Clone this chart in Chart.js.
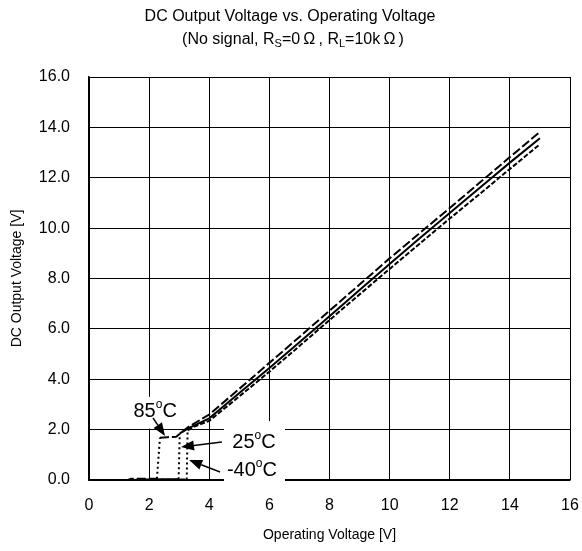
<!DOCTYPE html>
<html>
<head>
<meta charset="utf-8">
<script src="https://cdn.jsdelivr.net/npm/chart.js"></script>
<style>
html, body { margin: 0; padding: 0; background: #fff; }
</style>
</head>
<body>
<canvas id="myChart" width="582" height="551"></canvas>
<script>
// operating voltage [V] / dc output voltage [V]

// 85 degC
var volt85 = [0, 1.3, 1.4, 2.2, 2.26, 2.36, 2.6, 2.9, 3.3, 4, 5, 6, 7, 8, 9, 10, 11, 12, 13, 14, 15];
var out85 = [0, 0, 0.05, 0.05, 0.05, 1.68, 1.7, 1.72, 2.1, 2.6, 3.62, 4.65, 5.68, 6.72, 7.76, 8.8, 9.8, 10.8, 11.81, 12.82, 13.82];

// 25 degC
var volt25 = [0, 1.4, 2.2, 2.98, 3.02, 3.3, 4, 5, 6, 7, 8, 9, 10, 11, 12, 13, 14, 15];
var out25 = [0, 0, 0.03, 0.03, 1.85, 2.05, 2.45, 3.45, 4.45, 5.47, 6.5, 7.54, 8.58, 9.6, 10.6, 11.6, 12.6, 13.57];

// -40 degC
var voltM40 = [0, 2.2, 3.25, 3.28, 3.5, 4, 5, 6, 7, 8, 9, 10, 11, 12, 13, 14, 15];
var outM40 = [0, 0, 0.02, 1.97, 2.12, 2.35, 3.32, 4.3, 5.32, 6.35, 7.37, 8.38, 9.38, 10.38, 11.36, 12.35, 13.33];

var xTicks = [0, 2, 4, 6, 8, 10, 12, 14, 16];
var yTicks = [0, 2, 4, 6, 8, 10, 12, 14, 16];

var FONT = '"Liberation Sans", Arial, sans-serif';

function pts(xs, ys) {
    var arr = [];
    for (var i = 0; i < xs.length; i++) {
        arr.push({ x: xs[i], y: ys[i] });
    }
    return arr;
}

// steep jumps are drawn dotted
function jumpDash(c) {
    var dx = c.p1.parsed.x - c.p0.parsed.x;
    var dy = c.p1.parsed.y - c.p0.parsed.y;
    return Math.abs(dy) > 5 * Math.abs(dx) ? [2, 3] : undefined;
}

function drawRich(ctx, parts, cx, base) {
    var w = 0;
    parts.forEach(function(p) {
        ctx.font = p[1] + 'px ' + FONT;
        w += ctx.measureText(p[0]).width;
    });
    var x = cx - w / 2;
    ctx.textAlign = 'left';
    ctx.textBaseline = 'alphabetic';
    parts.forEach(function(p) {
        ctx.font = p[1] + 'px ' + FONT;
        ctx.fillText(p[0], x, base + p[2]);
        x += ctx.measureText(p[0]).width;
    });
}

function arrow(ctx, x0, y0, x1, y1) {
    var a = Math.atan2(y1 - y0, x1 - x0), L = 13, W = 5;
    var bx = x1 - L * Math.cos(a), by = y1 - L * Math.sin(a);
    ctx.beginPath();
    ctx.moveTo(x0, y0);
    ctx.lineTo(bx, by);
    ctx.stroke();
    ctx.beginPath();
    ctx.moveTo(x1, y1);
    ctx.lineTo(bx + W * Math.sin(a), by - W * Math.cos(a));
    ctx.lineTo(bx - W * Math.sin(a), by + W * Math.cos(a));
    ctx.closePath();
    ctx.fill();
}

var extras = {
    id: 'extras',
    afterDatasetsDraw: function(chart) {
        var ctx = chart.ctx;
        var xs = chart.scales.x, ys = chart.scales.y;
        var px = function(v) { return xs.getPixelForValue(v); };
        var py = function(v) { return ys.getPixelForValue(v); };
        ctx.save();

        // white boxes behind the labels
        ctx.fillStyle = '#fff';
        ctx.fillRect(px(1.36), py(3.3), px(3.06) - px(1.36), py(2.04) - py(3.3));
        ctx.fillRect(px(4.49), py(2.34), px(6.52) - px(4.49), py(-0.14) - py(2.34));

        ctx.fillStyle = '#000';
        ctx.strokeStyle = '#000';
        ctx.lineWidth = 1.5;
        drawRich(ctx, [['85', 20, 0], ['o', 12, -9], ['C', 20, 0]], px(2.2), py(2.5));
        drawRich(ctx, [['25', 20, 0], ['o', 12, -9], ['C', 20, 0]], px(5.49), py(1.27));
        drawRich(ctx, [['-40', 20, 0], ['o', 12, -9], ['C', 20, 0]], px(5.42), py(0.16));

        arrow(ctx, px(2.13), py(2.46), px(2.53), py(1.75));
        arrow(ctx, px(4.42), py(1.51), px(3.06), py(1.31));
        arrow(ctx, px(4.36), py(0.32), px(3.33), py(0.79));

        // title
        drawRich(ctx, [['DC Output Voltage vs. Operating Voltage', 16, 0]], 290, 21);
        drawRich(ctx, [
            ['(No signal, R', 16, 0], ['S', 11, 3], ['=0\u2009\u03a9\u2009, R', 16, 0], ['L', 11, 3], ['=10k\u2009\u03a9\u2009)', 16, 0]
        ], 293, 44);
        ctx.restore();
    }
};

var ctx = document.getElementById('myChart').getContext('2d');
var myChart = new Chart(ctx, {
    type: 'line',
    data: {
        datasets: [{
            label: '85\u00b0C',
            data: pts(volt85, out85),
            borderColor: '#000',
            borderWidth: 2,
            borderDash: [9, 3],
            segment: { borderDash: jumpDash }
        }, {
            label: '25\u00b0C',
            data: pts(volt25, out25),
            borderColor: '#000',
            borderWidth: 2,
            borderDash: [],
            segment: { borderDash: jumpDash }
        }, {
            label: '-40\u00b0C',
            data: pts(voltM40, outM40),
            borderColor: '#000',
            borderWidth: 2,
            borderDash: [5, 2],
            segment: { borderDash: jumpDash }
        }]
    },
    options: {
        responsive: false,
        animation: false,
        devicePixelRatio: 1,
        layout: { padding: { left: 0, top: 77, right: 12, bottom: 0 } },
        elements: { point: { radius: 0 }, line: { tension: 0 } },
        plugins: { legend: { display: false }, tooltip: { enabled: false }, title: { display: false } },
        scales: {
            x: {
                type: 'linear',
                min: 0,
                max: 16,
                afterBuildTicks: function(s) { s.ticks = xTicks.map(function(v) { return { value: v }; }); },
                afterFit: function(s) { s.height = 71; s.paddingLeft = 0; s.paddingRight = 0; },
                ticks: { color: '#000', padding: 16, font: { family: FONT, size: 16 }, maxRotation: 0 },
                grid: { color: '#000', lineWidth: 1, drawTicks: false },
                border: { color: '#000', width: 1.5 },
                title: { display: true, text: 'Operating Voltage [V]', color: '#000', font: { family: FONT, size: 14 }, padding: { top: 0, bottom: 7 } }
            },
            y: {
                min: 0,
                max: 16,
                afterBuildTicks: function(s) { s.ticks = yTicks.map(function(v) { return { value: v }; }); },
                afterFit: function(s) { s.width = 89; },
                ticks: { color: '#000', padding: 19, font: { family: FONT, size: 16 }, callback: function(v) { return v.toFixed(1); } },
                grid: { color: '#000', lineWidth: 1, drawTicks: false },
                border: { color: '#000', width: 1.5 },
                title: { display: true, text: 'DC Output Voltage [V]', color: '#000', font: { family: FONT, size: 14 }, padding: { top: 9, bottom: 0 } }
            }
        }
    },
    plugins: [extras]
});
</script>
</body>
</html>
